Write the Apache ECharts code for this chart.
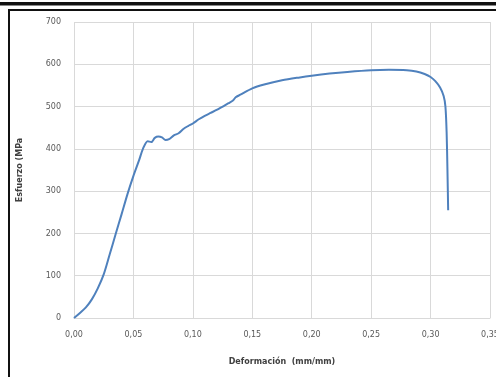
<!DOCTYPE html>
<html>
<head>
<meta charset="utf-8">
<script src="https://cdn.jsdelivr.net/npm/echarts@6/dist/echarts.min.js"></script>
<style>
  html, body { margin: 0; padding: 0; background: #fff; }
  #chart { width: 496px; height: 377px; }
</style>
</head>
<body>
<div id="chart"></div>
<script>
// deformacion (mm/mm) y esfuerzo (MPa)
let strain = [0, 0.005, 0.010, 0.015, 0.020, 0.025, 0.030, 0.035, 0.040, 0.045, 0.050,
              0.055, 0.058, 0.062, 0.065, 0.068, 0.071, 0.074, 0.077, 0.080,
              0.084, 0.088, 0.092, 0.096, 0.100, 0.105, 0.110, 0.115, 0.120, 0.125,
              0.130, 0.134, 0.136, 0.140, 0.150, 0.160, 0.175, 0.190, 0.200, 0.215,
              0.230, 0.250, 0.265, 0.280, 0.288, 0.295, 0.300, 0.304, 0.308, 0.311,
              0.3125, 0.3135, 0.3142, 0.3148];
let stress = [0, 12, 25, 44, 70, 103, 150, 198, 245, 293, 336,
              375, 400, 418, 416, 426, 429, 427, 421, 423,
              432, 437, 447, 454, 460, 470, 478, 485, 492, 500,
              508, 515, 522, 528, 543, 552, 562, 569, 573, 578,
              582, 586, 587, 586, 583, 577, 570, 560, 545, 525,
              500, 440, 350, 255];
let xTicks = [0, 0.05, 0.10, 0.15, 0.20, 0.25, 0.30, 0.35];
let yTicks = [0, 100, 200, 300, 400, 500, 600, 700];

let points = strain.map(function (s, i) { return [s, stress[i]]; });

let chart = echarts.init(document.getElementById('chart'));
let option = {
  animation: false,
  backgroundColor: '#fff',
  grid: { left: 74, top: 22, right: 6, bottom: 59, outerBoundsMode: 'none' },
  graphic: [
    { type: 'rect', shape: { x: 0, y: 2, width: 496, height: 3 }, style: { fill: '#111' } },
    { type: 'rect', shape: { x: 0, y: 5, width: 496, height: 1 }, style: { fill: '#888' } },
    { type: 'rect', shape: { x: 8, y: 9, width: 2, height: 368 }, style: { fill: '#111' } },
    { type: 'rect', shape: { x: 8, y: 9, width: 488, height: 2 }, style: { fill: '#111' } }
  ],
  xAxis: {
    type: 'value',
    min: xTicks[0], max: xTicks[xTicks.length - 1], interval: 0.05,
    name: 'Deformación  (mm/mm)',
    nameLocation: 'middle',
    nameGap: 40,
    nameTextStyle: { color: '#404040', fontSize: 8, fontWeight: 'bold', fontFamily: 'DejaVu Sans' },
    axisLine: { show: true, lineStyle: { color: '#d9d9d9' } },
    axisTick: { show: false },
    axisLabel: {
      color: '#595959', fontSize: 8, fontFamily: 'DejaVu Sans', margin: 13,
      formatter: function (v) { return v.toFixed(2).replace('.', ','); }
    },
    splitLine: { show: true, lineStyle: { color: '#d9d9d9' } }
  },
  yAxis: {
    type: 'value',
    min: yTicks[0], max: yTicks[yTicks.length - 1], interval: 100,
    name: 'Esfuerzo (MPa',
    nameLocation: 'middle',
    nameGap: 50,
    nameTextStyle: { color: '#404040', fontSize: 8, fontWeight: 'bold', fontFamily: 'DejaVu Sans' },
    axisLine: { show: false },
    axisTick: { show: false },
    axisLabel: { color: '#595959', fontSize: 8, fontFamily: 'DejaVu Sans', margin: 13 },
    splitLine: { show: true, lineStyle: { color: '#d9d9d9' } }
  },
  series: [{
    type: 'line',
    data: points,
    showSymbol: false,
    smooth: 0.3,
    lineStyle: { color: '#4f81bd', width: 2 }
  }]
};
chart.setOption(option);
</script>
</body>
</html>
